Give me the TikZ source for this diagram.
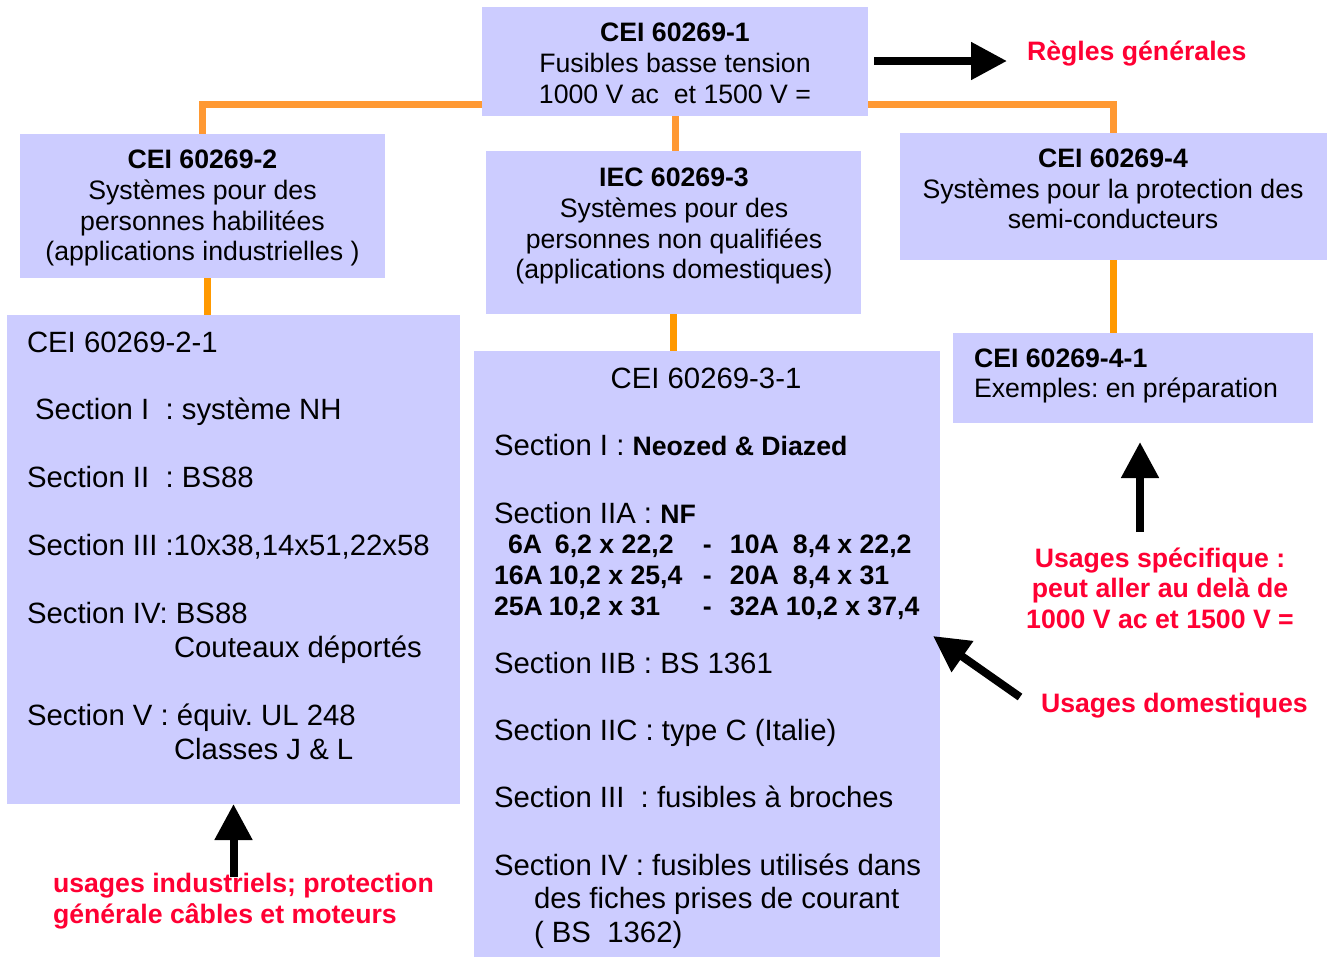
\documentclass[tikz,border=0pt]{standalone}
\usepackage{fontspec}
\setmainfont{Liberation Sans}
\usetikzlibrary{arrows.meta}
\definecolor{boxfill}{HTML}{CCCCFF}
\definecolor{orangeA}{HTML}{FF9933}
\definecolor{orangeB}{HTML}{FF9900}
\definecolor{redtxt}{HTML}{FF0033}
\newcommand{\szA}{\fontsize{20pt}{23.25pt}\selectfont}
\newcommand{\szB}{\fontsize{22pt}{25.5pt}\selectfont}
\frenchspacing
\begin{document}
\begin{tikzpicture}[x=0.75pt,y=-0.75pt,
  box/.style={fill=boxfill,draw=none,inner sep=0pt,outer sep=0pt},
  tc/.style={inner sep=0pt,outer sep=0pt,font=\szA,anchor=base},
  tl/.style={inner sep=0pt,outer sep=0pt,font=\szA,anchor=base west},
  sl/.style={inner sep=0pt,outer sep=0pt,font=\szB,anchor=base west},
  rc/.style={inner sep=0pt,outer sep=0pt,font=\szA\bfseries,text=redtxt,anchor=base},
  rl/.style={inner sep=0pt,outer sep=0pt,font=\szA\bfseries,text=redtxt,anchor=base west},
  linkA/.style={draw=orangeA,line width=5.25pt},
  linkB/.style={draw=orangeB,line width=5.25pt},
  bigarrow/.style={draw=black,line width=6pt,-{Triangle[width=27pt,length=27pt]}}]
\useasboundingbox (0,0) rectangle (1327,958);

% boxes
\node[box,minimum width=289.5pt,minimum height=81.75pt] (top) at (675,61.5) {};
\node[box,minimum width=273.75pt,minimum height=108pt] (b2) at (202.5,206) {};
\node[box,minimum width=281.25pt,minimum height=122.25pt] (b3) at (673.5,232.5) {};
\node[box,minimum width=320.25pt,minimum height=95.25pt] (b4) at (1113.5,196.5) {};
\node[box,minimum width=339.75pt,minimum height=366.75pt] (b21) at (233.5,559.5) {};
\node[box,minimum width=349.5pt,minimum height=454.5pt] (b31) at (707,654) {};
\node[box,minimum width=270pt,minimum height=67.5pt] (b41) at (1133,378) {};

% connectors
\draw[linkA] ([yshift=9pt]top.south west) -| (b2.north);
\draw[linkA] ([yshift=9pt]top.south east) -| (b4.north);
\draw[linkA] (top.south) -- (top.south |- b3.north);
\draw[linkB] ([xshift=3.375pt]b2.south) -- ([xshift=3.375pt]b2.south |- b21.north);
\draw[linkB] (b3.south) -- (b3.south |- b31.north);
\draw[linkB] (b4.south) -- (b4.south |- b41.north);

% top box text
\node[tc,font=\szA\bfseries] (t1a) at (675,41) {CEI 60269-1};
\node[tc] (t1b) at (675,72) {Fusibles basse tension};
\node[tc] (t1c) at (675,103) {1000 V ac\ \ et 1500 V =};

% box 2
\node[tc,font=\szA\bfseries] (t2a) at (202.5,168) {CEI 60269-2};
\node[tc] (t2b) at (202.5,199) {Systèmes pour des};
\node[tc] (t2c) at (202.5,230) {personnes habilitées};
\node[tc] (t2d) at (202.5,260) {(applications industrielles )};

% box 3
\node[tc,font=\szA\bfseries] (t3a) at (674,186) {IEC 60269-3};
\node[tc] (t3b) at (674,217) {Systèmes pour des};
\node[tc] (t3c) at (674,248) {personnes non qualifiées};
\node[tc] (t3d) at (674,278) {(applications domestiques)};

% box 4
\node[tc,font=\szA\bfseries] (t4a) at (1113,167) {CEI 60269-4};
\node[tc] (t4b) at (1113,198) {Systèmes pour la protection des};
\node[tc] (t4c) at (1113,228) {semi-conducteurs};

% box 4-1
\node[tl,font=\szA\bfseries] (t41a) at (974,367) {CEI 60269-4-1};
\node[tl] (t41b) at (974,397) {Exemples: en préparation};

% box 2-1
\node[sl] (s1) at (27,352) {CEI 60269-2-1};
\node[sl] (s2) at (27,419) {\ Section I\ \ : système NH};
\node[sl] (s3) at (27,487) {Section II\ \ : BS88};
\node[sl] (s4) at (27,555) {Section III :10x38,14x51,22x58};
\node[sl] (s5) at (27,623) {Section IV: BS88};
\node[sl] (s6) at (174,657) {Couteaux déportés};
\node[sl] (s7) at (27,725) {Section V : équiv. UL 248};
\node[sl] (s8) at (174,759) {Classes J \& L};

% box 3-1
\node[inner sep=0pt,font=\szB,anchor=base] (u1) at (706,388) {CEI 60269-3-1};
\node[sl] (u2) at (494,455) {Section I : {\szA\bfseries Neozed \& Diazed}};
\node[sl] (u3) at (494,523) {Section IIA : {\szA\bfseries NF}};
\node[tl,font=\szA\bfseries] (u4) at (494,553) {\makebox[41.25pt][l]{\hspace{10.5pt}6A}\makebox[115.5pt][l]{\hspace{4.5pt}6,2 x 22,2}\makebox[20.25pt][l]{-}\makebox[47.25pt][l]{10A}8,4 x 22,2};
\node[tl,font=\szA\bfseries] (u5) at (494,584) {\makebox[41.25pt][l]{16A}\makebox[115.5pt][l]{10,2 x 25,4}\makebox[20.25pt][l]{-}\makebox[47.25pt][l]{20A}8,4 x 31};
\node[tl,font=\szA\bfseries] (u6) at (494,615) {\makebox[41.25pt][l]{25A}\makebox[115.5pt][l]{10,2 x 31}\makebox[20.25pt][l]{-}\makebox[42pt][l]{32A}10,2 x 37,4};
\node[sl] (u7) at (494,673) {Section IIB : BS 1361};
\node[sl] (u8) at (494,740) {Section IIC : type C (Italie)};
\node[sl] (u9) at (494,807) {Section III\ \ : fusibles à broches};
\node[sl] (u10) at (494,875) {Section IV : fusibles utilisés dans};
\node[sl] (u11) at (534,908) {des fiches prises de courant};
\node[sl] (u12) at (534,942) {( BS\ \ 1362)};

% red annotations
\node[rl] (regles) at (1027,60) {Règles générales};
\node[rc] (spec1) at (1160,567) {Usages spécifique :};
\node[rc] (spec2) at (1160,597) {peut aller au delà de};
\node[rc] (spec3) at (1160,628) {1000 V ac et 1500 V =};
\node[rl] (dom) at (1041,712) {Usages domestiques};
\node[rl] (ind1) at (53,892) {usages industriels; protection};
\node[rl] (ind2) at (53,923) {générale câbles et moteurs};

% black arrows
\coordinate (ra0) at (874,61);
\coordinate (ra1) at (1007,61);
\coordinate (ua0) at (1140,532);
\coordinate (ua1) at (1140,442);
\coordinate (da0) at (1020,697);
\coordinate (da1) at (933,636);
\coordinate (la0) at (233.5,877);
\draw[bigarrow] (ra0) -- (ra1);
\draw[bigarrow] (ua0) -- (ua1);
\draw[bigarrow] (da0) -- (da1);
\draw[bigarrow] (la0) -- (b21.south);
\end{tikzpicture}
\end{document}
